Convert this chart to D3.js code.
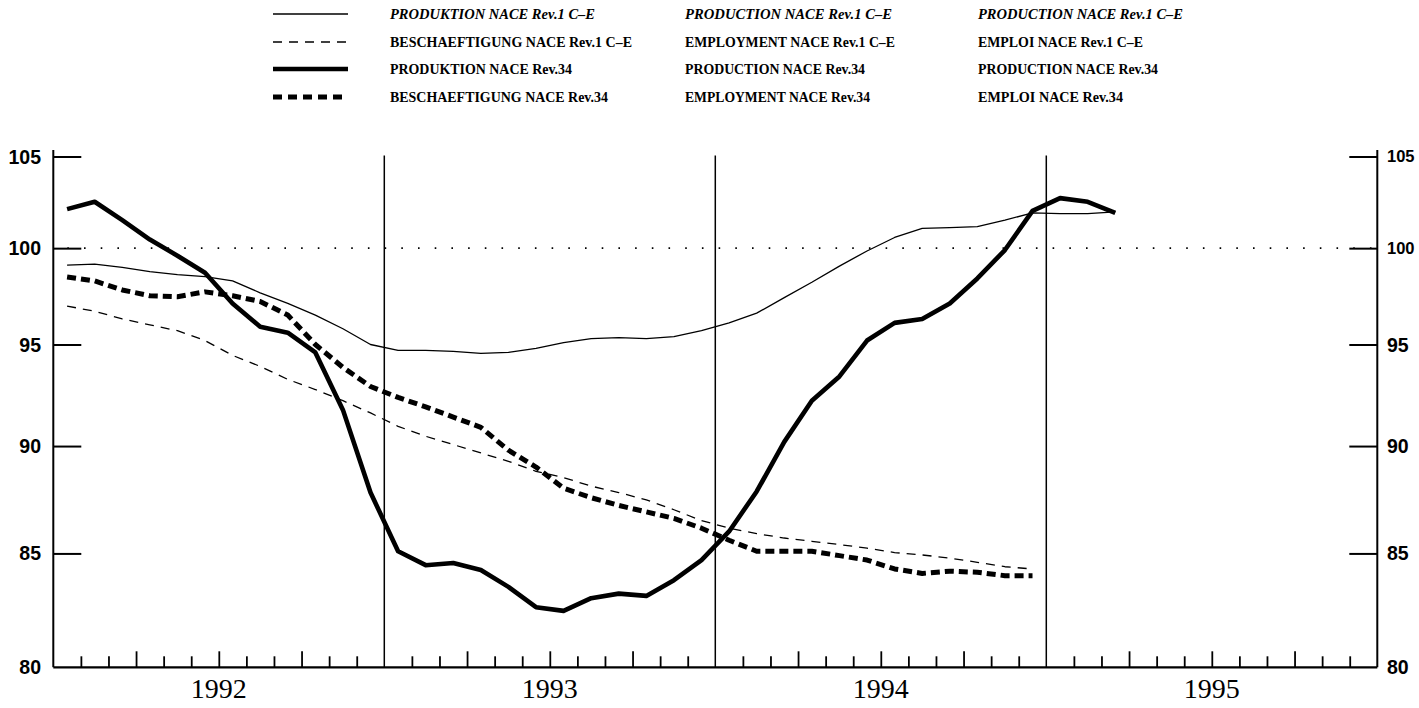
<!DOCTYPE html>
<html>
<head>
<meta charset="utf-8">
<script src="https://cdn.jsdelivr.net/npm/d3@7"></script>
<style>
  html, body { margin: 0; padding: 0; background: #fff; }
  svg { display: block; }
</style>
</head>
<body>
<svg id="chart" width="1419" height="708"></svg>
<script>
// ---------------- DATA ----------------
const startYear = 1992;
const yearLabels = ["1992", "1993", "1994", "1995"];
const yTicks = [80, 85, 90, 95, 100, 105];
const refLevel = 100;

// monthly values, index 0 = Jan 1992
const prodRev1 = [99.1, 99.15, 98.98, 98.76, 98.6, 98.5, 98.27, 97.65, 97.1, 96.5, 95.8, 95.0,
  94.7, 94.7, 94.65, 94.55, 94.6, 94.8, 95.1, 95.3, 95.35, 95.3, 95.4, 95.7,
  96.1, 96.6, 97.4, 98.2, 99.05, 99.85, 100.57, 101.06, 101.1, 101.15, 101.5, 101.9,
  101.85, 101.85, 101.95];
const empRev1 = [96.96, 96.7, 96.3, 96.0, 95.7, 95.2, 94.45, 93.9, 93.25, 92.75, 92.2, 91.6,
  90.95, 90.47, 90.07, 89.67, 89.27, 88.8, 88.5, 88.1, 87.8, 87.46, 87.0, 86.5,
  86.15, 85.9, 85.7, 85.55, 85.4, 85.24, 85.04, 84.93, 84.79, 84.6, 84.4, 84.3];
const prodRev34 = [102.1, 102.5, 101.5, 100.46, 99.6, 98.7, 97.1, 95.9, 95.6, 94.6, 91.75, 87.8,
  85.1, 84.47, 84.57, 84.25, 83.5, 82.6, 82.44, 83.0, 83.2, 83.1, 83.8, 84.7,
  86.0, 87.85, 90.2, 92.2, 93.4, 95.2, 96.1, 96.3, 97.1, 98.4, 99.9, 102.0,
  102.7, 102.5, 101.9];
const empRev34 = [98.48, 98.27, 97.8, 97.5, 97.45, 97.7, 97.5, 97.2, 96.5, 95.0, 93.85, 92.9,
  92.36, 91.9, 91.4, 90.9, 89.8, 89.0, 88.0, 87.56, 87.2, 86.9, 86.6, 86.15,
  85.6, 85.1, 85.1, 85.1, 84.9, 84.7, 84.3, 84.1, 84.2, 84.15, 84.0, 84.0];

const legendDE = ["PRODUKTION NACE Rev.1 C\u2013E", "BESCHAEFTIGUNG NACE Rev.1 C\u2013E",
  "PRODUKTION NACE Rev.34", "BESCHAEFTIGUNG NACE Rev.34"];
const legendEN = ["PRODUCTION NACE Rev.1 C\u2013E", "EMPLOYMENT NACE Rev.1 C\u2013E",
  "PRODUCTION NACE Rev.34", "EMPLOYMENT NACE Rev.34"];
const legendFR = ["PRODUCTION NACE Rev.1 C\u2013E", "EMPLOI NACE Rev.1 C\u2013E",
  "PRODUCTION NACE Rev.34", "EMPLOI NACE Rev.34"];

// ---------------- STYLES / LAYOUT ----------------
const seriesStyles = [
  { data: prodRev1, width: 1.3, dash: null },
  { data: empRev1, width: 1.3, dash: "9,7" },
  { data: prodRev34, width: 4.6, dash: null },
  { data: empRev34, width: 5, dash: "9,5" }
];
const legendWidthsDE = [205, 242, 182, 218];
const legendWidthsEN = [207, 210, 180, 185];
const legendWidthsFR = [205, 165, 180, 145];

const svg = d3.select("#chart");
const plotL = 53.3, plotR = 1377.3, plotT = 156.5, plotB = 667.3;
const nMonths = yearLabels.length * 12;

const x = d3.scaleLinear().domain([0, nMonths]).range([plotL, plotR]);
const y = d3.scaleLog().domain([80, 105]).range([plotB, plotT]);

// reference dotted line at 100
svg.append("line")
  .attr("x1", plotL).attr("x2", plotR)
  .attr("y1", y(refLevel)).attr("y2", y(refLevel))
  .attr("stroke", "#000").attr("stroke-width", 1.6)
  .attr("stroke-dasharray", "1.6,15.1")
  .attr("stroke-dashoffset", -14);

// year separator lines
for (let i = 1; i < yearLabels.length; i++) {
  svg.append("line")
    .attr("x1", x(i * 12)).attr("x2", x(i * 12))
    .attr("y1", y(105) - 1).attr("y2", plotB)
    .attr("stroke", "#000").attr("stroke-width", 1.5);
}

// left & right axes (ticks inward)
const leftAxis = d3.axisRight(y).tickValues(yTicks.slice(1)).tickSize(28).tickFormat("");
const gL = svg.append("g").attr("transform", `translate(${plotL},0)`).call(leftAxis);
const rightAxis = d3.axisLeft(y).tickValues(yTicks.slice(1)).tickSize(28).tickFormat("");
const gR = svg.append("g").attr("transform", `translate(${plotR},0)`).call(rightAxis);
[gL, gR].forEach(g => {
  g.select(".domain").remove();
  g.selectAll("line").attr("stroke", "#000").attr("stroke-width", 2);
});
svg.append("line").attr("x1", plotL).attr("x2", plotL).attr("y1", 150).attr("y2", plotB)
  .attr("stroke", "#000").attr("stroke-width", 2);
svg.append("line").attr("x1", plotR).attr("x2", plotR).attr("y1", 150).attr("y2", plotB)
  .attr("stroke", "#000").attr("stroke-width", 2);

// y tick labels
svg.append("g").selectAll("text").data(yTicks).join("text")
  .attr("x", 41).attr("y", d => y(d)).attr("dy", "0.36em")
  .attr("text-anchor", "end")
  .attr("font-family", "Liberation Sans, Arial, sans-serif")
  .attr("font-weight", "bold").attr("font-size", 19.5)
  .text(d => d);
svg.append("g").selectAll("text").data(yTicks).join("text")
  .attr("x", 1387).attr("y", d => y(d)).attr("dy", "0.36em")
  .attr("text-anchor", "start")
  .attr("font-family", "Liberation Sans, Arial, sans-serif")
  .attr("font-weight", "bold")
  .attr("font-size", d => String(d).length > 2 ? 16.5 : 19.5)
  .text(d => d);

// bottom axis with monthly ticks
const monthTicks = d3.range(1, nMonths).filter(m => m % 12 !== 0);
const bottomAxis = d3.axisTop(x).tickValues(monthTicks).tickSize(11).tickFormat("");
const gB = svg.append("g").attr("transform", `translate(0,${plotB})`).call(bottomAxis);
gB.select(".domain").remove();
gB.selectAll(".tick line")
  .attr("stroke", "#000").attr("stroke-width", 1.8)
  .attr("y2", d => d % 3 === 0 ? -16 : -11);
svg.append("line").attr("x1", plotL).attr("x2", plotR).attr("y1", plotB).attr("y2", plotB)
  .attr("stroke", "#000").attr("stroke-width", 2.2);

// year labels
svg.append("g").selectAll("text").data(yearLabels).join("text")
  .attr("x", (d, i) => x(i * 12 + 6)).attr("y", 698)
  .attr("text-anchor", "middle")
  .attr("font-family", "Liberation Serif, Times New Roman, serif")
  .attr("font-size", 28)
  .text(d => d);

// series lines
const line = d3.line()
  .x((d, i) => x(i + 0.5))
  .y(d => y(d));
seriesStyles.forEach(s => {
  svg.append("path")
    .datum(s.data)
    .attr("d", line)
    .attr("fill", "none")
    .attr("stroke", "#000")
    .attr("stroke-width", s.width)
    .attr("stroke-linejoin", "round")
    .attr("stroke-dasharray", s.dash);
});

// legend
const legendRowsY = [14, 42, 69, 97];
const legendCols = [[390, legendDE, legendWidthsDE], [685, legendEN, legendWidthsEN], [978, legendFR, legendWidthsFR]];
seriesStyles.forEach((s, i) => {
  svg.append("line")
    .attr("x1", 273).attr("x2", 348)
    .attr("y1", legendRowsY[i]).attr("y2", legendRowsY[i])
    .attr("stroke", "#000")
    .attr("stroke-width", s.width)
    .attr("stroke-dasharray", s.dash ? (i === 1 ? "9,7" : "9,6") : null);
});
legendCols.forEach(([cx, labels, widths]) => {
  svg.append("g").selectAll("text").data(labels).join("text")
    .attr("x", cx).attr("y", (d, i) => legendRowsY[i]).attr("dy", "0.35em")
    .attr("font-family", "Liberation Serif, Times New Roman, serif")
    .attr("font-weight", "bold")
    .attr("font-style", (d, i) => i === 0 ? "italic" : "normal")
    .attr("font-size", 14.5)
    .attr("textLength", (d, i) => widths[i])
    .attr("lengthAdjust", "spacingAndGlyphs")
    .text(d => d);
});
</script>
</body>
</html>
